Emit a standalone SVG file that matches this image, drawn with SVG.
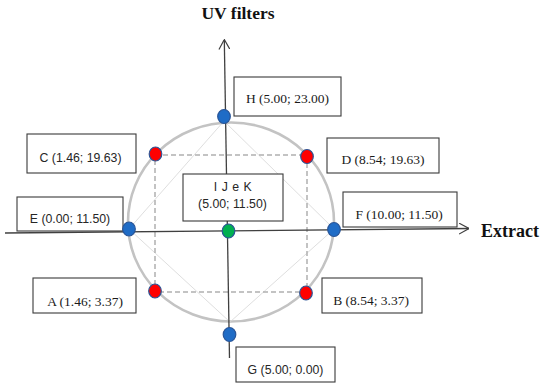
<svg xmlns="http://www.w3.org/2000/svg" width="550" height="389" viewBox="0 0 550 389">
  <style>
    .box { fill: #ffffff; stroke: #3a3a3a; stroke-width: 1.1; }
    .serif { font-family: "Liberation Serif", "Times New Roman", serif; font-size: 13.5px; fill: #1a1a1a; text-anchor: middle; }
    .sans { font-family: "Liberation Sans", Arial, sans-serif; font-size: 12.3px; fill: #262626; text-anchor: middle; }
    .title { font-family: "Liberation Serif", "Times New Roman", serif; font-weight: bold; fill: #111; }
    .axis { stroke: #404040; stroke-width: 1.3; fill: none; }
    .blue { fill: #1f6cc6; stroke: #2a5597; stroke-width: 1.2; }
    .red { fill: #ff0000; stroke: #2a5597; stroke-width: 1.2; }
    .green { fill: #00b050; stroke: #2a5597; stroke-width: 1.2; }
    .ring { fill: none; stroke: #c3c3c3; stroke-width: 2.6; }
    .dash { fill: none; stroke: #b0b0b0; stroke-width: 1.5; stroke-dasharray: 5 3; }
    .thin { fill: none; stroke: #d6d6d6; stroke-width: 0.8; }
  </style>
  <defs>
    <marker id="open" viewBox="0 0 10 12" refX="10" refY="6" markerWidth="10" markerHeight="12" markerUnits="userSpaceOnUse" orient="auto">
      <path d="M0,0.5 L10,6 L0,11.5" fill="none" stroke="#404040" stroke-width="1.2"/>
    </marker>
  </defs>
  <rect width="550" height="389" fill="#ffffff"/>

  <!-- background geometry -->
  <g id="geometry">
    <ellipse class="ring" cx="231" cy="222" rx="103" ry="99.5"/>
    <polygon class="thin" points="224,121 334,229 230,322 129,229"/>
    <rect class="dash" x="155" y="155" width="152" height="137"/>
  </g>

  <!-- connectors (axes) -->
  <g id="connectors">
    <line class="axis" x1="5" y1="233" x2="469" y2="228.5" marker-end="url(#open)"/>
    <line class="axis" x1="229.5" y1="358" x2="224.3" y2="39.5" marker-end="url(#open)"/>
  </g>

  <text class="title" x="238" y="19" font-size="17.5" text-anchor="middle">UV filters</text>
  <text class="title" x="481" y="237" font-size="18">Extract</text>

  <g id="H">
    <rect class="box" x="234" y="77" width="107" height="39"/>
    <text class="serif" x="287.5" y="103">H (5.00; 23.00)</text>
    <ellipse class="blue" cx="224" cy="116.5" rx="6.3" ry="7"/>
  </g>
  <g id="C">
    <rect class="box" x="27" y="134" width="109" height="39"/>
    <text class="sans" x="80.5" y="162">C (1.46; 19.63)</text>
    <ellipse class="red" cx="155.5" cy="154" rx="6.3" ry="7"/>
  </g>
  <g id="D">
    <rect class="box" x="327" y="138" width="112" height="35"/>
    <text class="serif" x="383" y="164">D (8.54; 19.63)</text>
    <ellipse class="red" cx="307" cy="156.5" rx="6.3" ry="7"/>
  </g>
  <g id="E">
    <rect class="box" x="17" y="197" width="106" height="34"/>
    <text class="sans" x="70" y="223">E (0.00; 11.50)</text>
    <ellipse class="blue" cx="129" cy="229" rx="6.3" ry="7"/>
  </g>
  <g id="F">
    <rect class="box" x="343" y="192" width="114" height="35"/>
    <text class="serif" x="399" y="219">F (10.00; 11.50)</text>
    <ellipse class="blue" cx="334" cy="229.5" rx="6.3" ry="7"/>
  </g>
  <g id="IJK">
    <rect class="box" x="183" y="174" width="100" height="47"/>
    <text class="sans" x="233" y="191" letter-spacing="0.5">I J e K</text>
    <text class="sans" x="232.5" y="208">(5.00; 11.50)</text>
    <ellipse class="green" cx="228.5" cy="231" rx="6.3" ry="7"/>
  </g>
  <g id="A">
    <rect class="box" x="33" y="278" width="103" height="35"/>
    <text class="serif" x="85" y="306">A (1.46; 3.37)</text>
    <ellipse class="red" cx="155" cy="291" rx="6.3" ry="7"/>
  </g>
  <g id="B">
    <rect class="box" x="322" y="278" width="100" height="35"/>
    <text class="serif" x="371" y="305">B (8.54; 3.37)</text>
    <ellipse class="red" cx="306" cy="293" rx="6.3" ry="7"/>
  </g>
  <g id="G">
    <rect class="box" x="236" y="347" width="99" height="35"/>
    <text class="sans" x="285.5" y="374">G (5.00; 0.00)</text>
    <ellipse class="blue" cx="229.5" cy="334.5" rx="6.3" ry="7"/>
  </g>
</svg>
